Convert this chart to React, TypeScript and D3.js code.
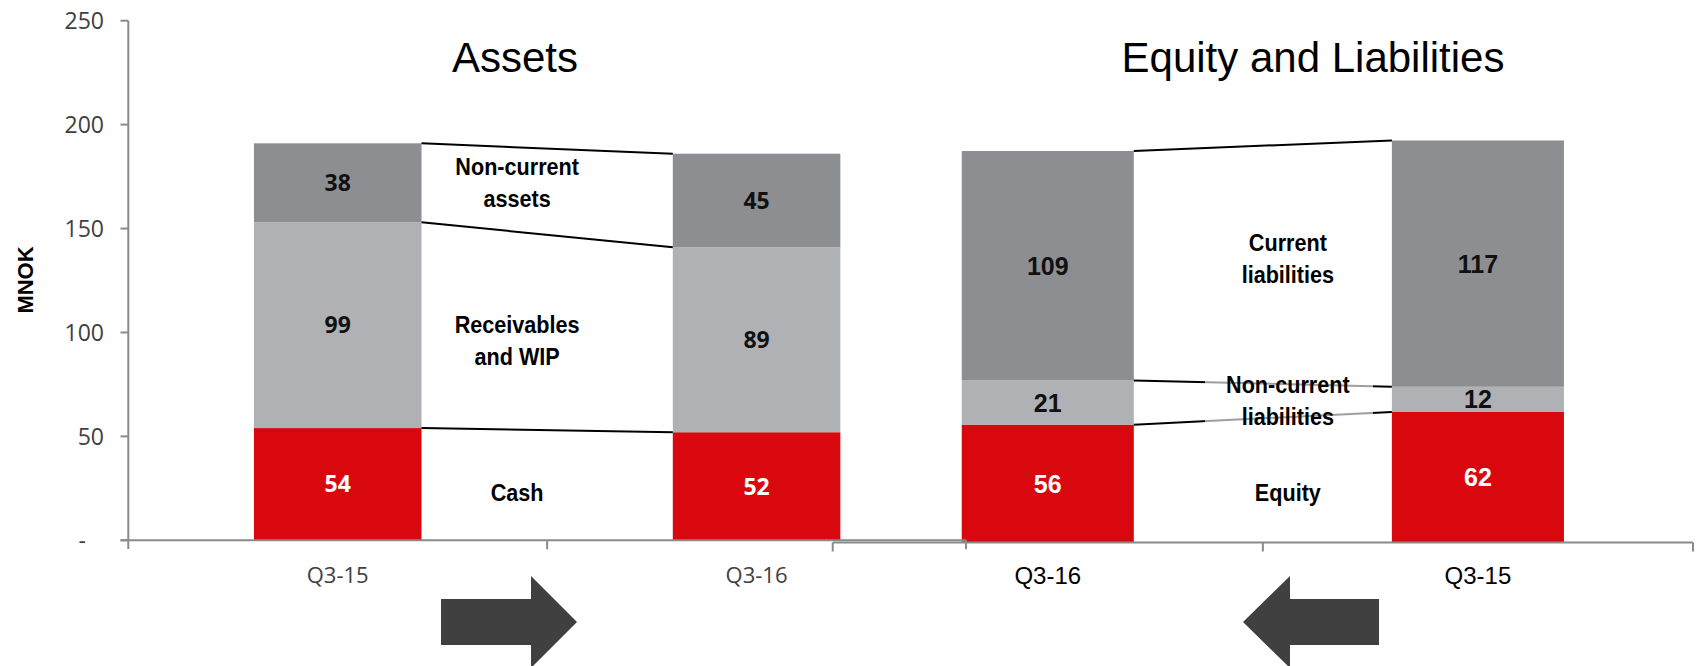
import React from "react";
import * as d3 from "d3";

// ---------- data ----------
const assetPeriods = ["Q3-15", "Q3-16"];
const assetCash = [54, 52];
const assetReceivables = [99, 89];
const assetNonCurrent = [38, 45];

const liabPeriods = ["Q3-16", "Q3-15"];
const equityValues = [56, 62];
const nonCurrentLiabilities = [21, 12];
const currentLiabilities = [109, 117];

const yTicks = [0, 50, 100, 150, 200, 250];
const yTickLabels = ["-", "50", "100", "150", "200", "250"];

const assetKeys = ["cash", "receivables", "nonCurrent"];
const assetSeriesLabels = [["Cash"], ["Receivables", "and WIP"], ["Non-current", "assets"]];
const liabKeys = ["equity", "nonCurrentLiab", "currentLiab"];
const liabSeriesLabels = [["Equity"], ["Non-current", "liabilities"], ["Current", "liabilities"]];
const chartTitles = ["Assets", "Equity and Liabilities"];
const yAxisTitle = "MNOK";

// ---------- styles ----------
const W = 1698;
const H = 666;
const RED = "#d9080e";
const LIGHT = "#b0b1b4";
const DARK = "#8d8e92";
const segColors = [RED, LIGHT, DARK];
const valueColors = ["#ffffff", "#111111", "#111111"];
const AXIS = "#8a8a8a";
const ARIAL = "'Liberation Sans', Arial, sans-serif";
const OPEN = "'Open Sans', 'Noto Sans', sans-serif";

type Row = { period: string; [k: string]: number | string };

const assetRows: Row[] = assetPeriods.map((p, i) => ({
  period: p,
  cash: assetCash[i],
  receivables: assetReceivables[i],
  nonCurrent: assetNonCurrent[i],
}));
const liabRows: Row[] = liabPeriods.map((p, i) => ({
  period: p,
  equity: equityValues[i],
  nonCurrentLiab: nonCurrentLiabilities[i],
  currentLiab: currentLiabilities[i],
}));

function band(domain: string[], r0: number, r1: number) {
  return d3.scaleBand<string>().domain(domain).range([r0, r1]).paddingInner(0.6).paddingOuter(0.3);
}

export default function App() {
  const xL = band(assetPeriods, 128.3, 966);
  const xR = band(liabPeriods, 832.7, 1693);
  const yL = d3.scaleLinear().domain([0, 250]).range([540.3, 20.7]);
  const yR = d3.scaleLinear().domain([0, 250]).range([542.5, 16.3]);

  const stackL = d3.stack<Row>().keys(assetKeys).value((d, k) => d[k] as number)(assetRows);
  const stackR = d3.stack<Row>().keys(liabKeys).value((d, k) => d[k] as number)(liabRows);

  const bars = (
    stack: d3.Series<Row, string>[],
    x: d3.ScaleBand<string>,
    y: d3.ScaleLinear<number, number>,
    prefix: string
  ) =>
    stack.map((layer, li) => (
      <g key={prefix + li}>
        {layer.map((d, i) => (
          <rect
            key={i}
            x={x(d.data.period as string)!}
            y={y(d[1])}
            width={x.bandwidth()}
            height={y(d[0]) - y(d[1])}
            fill={segColors[li]}
          />
        ))}
      </g>
    ));

  const values = (
    stack: d3.Series<Row, string>[],
    x: d3.ScaleBand<string>,
    y: d3.ScaleLinear<number, number>,
    font: string,
    fsize: number,
    prefix: string
  ) =>
    stack.map((layer, li) =>
      layer.map((d, i) => (
        <text
          key={prefix + li + "-" + i}
          x={x(d.data.period as string)! + x.bandwidth() / 2}
          y={(y(d[0]) + y(d[1])) / 2}
          dy="0.36em"
          textAnchor="middle"
          fontFamily={font}
          fontWeight={700}
          fontSize={fsize}
          fill={valueColors[li]}
        >
          {d[1] - d[0]}
        </text>
      ))
    );

  const connectors = (
    stack: d3.Series<Row, string>[],
    x: d3.ScaleBand<string>,
    y: d3.ScaleLinear<number, number>,
    prefix: string
  ) =>
    stack.map((layer, li) => {
      const a = layer[0];
      const b = layer[1];
      const x1 = x(a.data.period as string)! + x.bandwidth();
      const x2 = x(b.data.period as string)!;
      return (
        <line
          key={prefix + li}
          x1={x1}
          y1={y(a[1])}
          x2={x2}
          y2={y(b[1])}
          stroke="#000"
          strokeWidth={2}
        />
      );
    });

  // gap geometry for series labels
  const gapL0 = xL(assetPeriods[0])! + xL.bandwidth();
  const gapL1 = xL(assetPeriods[1])!;
  const gapR0 = xR(liabPeriods[0])! + xR.bandwidth();
  const gapR1 = xR(liabPeriods[1])!;
  const labelXL = (gapL0 + gapL1) / 2 - 30;
  const labelXR = (gapR0 + gapR1) / 2 + 25;
  const assetLabelBase = [501, 333, 175];
  const liabLabelBase = [501, 393, 251];
  const lineGap = 31.5;

  const seriesLabel = (lines: string[], x: number, y0: number, key: string) => (
    <g key={key}>
      {lines.map((t, j) => (
        <text
          key={j}
          transform={`translate(${x},${y0 + j * lineGap}) scale(0.9,1)`}
          textAnchor="middle"
          fontFamily={ARIAL}
          fontWeight={700}
          fontSize={24}
          fill="#000"
        >
          {t}
        </text>
      ))}
    </g>
  );

  const leftTickX = [xL.range()[0], xL.range()[0] + xL.step(), xL.range()[1]];
  const rightTickX = [xR.range()[0], xR.range()[0] + xR.step(), xR.range()[1]];

  return (
    <div style={{ position: "absolute", left: 0, top: 0, width: W, height: H, background: "#fff" }}>
      <svg width={W} height={H} viewBox={`0 0 ${W} ${H}`} style={{ display: "block" }}>
        <rect x={0} y={0} width={W} height={H} fill="#fff" />

        {/* titles */}
        <text x={515} y={72} textAnchor="middle" fontFamily={ARIAL} fontSize={42} fill="#000">
          {chartTitles[0]}
        </text>
        <text x={1313} y={72} textAnchor="middle" fontFamily={ARIAL} fontSize={42} fill="#000">
          {chartTitles[1]}
        </text>

        {/* bars */}
        {bars(stackL, xL, yL, "L")}
        {bars(stackR, xR, yR, "R")}

        {/* connector lines */}
        {connectors(stackL, xL, yL, "cl")}
        {connectors(stackR, xR, yR, "cr")}

        {/* translucent label box on the right */}
        <rect x={1205} y={368} width={168} height={64} fill="#fff" opacity={0.62} />

        {/* series labels */}
        {assetSeriesLabels.map((lines, i) => seriesLabel(lines, labelXL, assetLabelBase[i], "al" + i))}
        {liabSeriesLabels.map((lines, i) => seriesLabel(lines, labelXR, liabLabelBase[i], "ll" + i))}

        {/* value labels */}
        {values(stackL, xL, yL, OPEN, 23, "vl")}
        {values(stackR, xR, yR, ARIAL, 25, "vr")}

        {/* left y axis */}
        <line x1={128.3} y1={yL(250)} x2={128.3} y2={549} stroke={AXIS} strokeWidth={2} />
        {yTicks.map((t, i) => (
          <g key={"yt" + i}>
            <line x1={120.5} x2={128.3} y1={yL(t)} y2={yL(t)} stroke={AXIS} strokeWidth={2} />
            <text
              x={t === 0 ? 86 : 104}
              y={yL(t)}
              dy="0.36em"
              textAnchor="end"
              fontFamily={OPEN}
              fontSize={23}
              fill="#404040"
            >
              {yTickLabels[i]}
            </text>
          </g>
        ))}
        <text
          transform={`translate(33,280) rotate(-90)`}
          textAnchor="middle"
          fontFamily={ARIAL}
          fontWeight={700}
          fontSize={22}
          fill="#000"
        >
          {yAxisTitle}
        </text>

        {/* left x axis */}
        <line x1={120.5} x2={xL.range()[1]} y1={yL(0)} y2={yL(0)} stroke={AXIS} strokeWidth={2} />
        {leftTickX.slice(1).map((tx, i) => (
          <line key={"lxt" + i} x1={tx} x2={tx} y1={yL(0)} y2={yL(0) + 9} stroke={AXIS} strokeWidth={2} />
        ))}
        {assetPeriods.map((p) => (
          <text
            key={"lx" + p}
            x={xL(p)! + xL.bandwidth() / 2}
            y={583}
            textAnchor="middle"
            fontFamily={OPEN}
            fontSize={22}
            fill="#404040"
          >
            {p}
          </text>
        ))}

        {/* right x axis */}
        <line x1={xR.range()[0]} x2={xR.range()[1]} y1={yR(0)} y2={yR(0)} stroke={AXIS} strokeWidth={2} />
        {rightTickX.map((tx, i) => (
          <line key={"rxt" + i} x1={tx} x2={tx} y1={yR(0)} y2={yR(0) + 9} stroke={AXIS} strokeWidth={2} />
        ))}
        {liabPeriods.map((p) => (
          <text
            key={"rx" + p}
            x={xR(p)! + xR.bandwidth() / 2}
            y={584}
            textAnchor="middle"
            fontFamily={ARIAL}
            fontSize={24}
            fill="#000"
          >
            {p}
          </text>
        ))}

        {/* arrows */}
        <path d="M441,599 L531,599 L531,576 L577,622 L531,668 L531,645 L441,645 Z" fill="#404040" />
        <path d="M1379,599 L1290,599 L1290,576 L1243,622 L1290,668 L1290,645 L1379,645 Z" fill="#404040" />
      </svg>
    </div>
  );
}
